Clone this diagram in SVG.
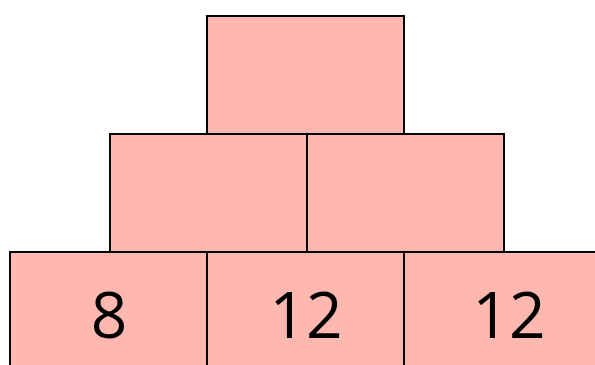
<svg xmlns="http://www.w3.org/2000/svg" width="595" height="365" viewBox="0 0 595 365">
<style>
.b{fill:#FFB8B0;stroke:#000;stroke-width:2}
.t{font-family:"Open Sans",sans-serif;font-size:64px;text-anchor:middle;fill:#000}
</style>
<rect width="595" height="365" fill="#fff"/>
<g id="top"><rect class="b" x="207" y="16" width="197" height="118"/></g>
<g id="mid-left"><rect class="b" x="110" y="134" width="197" height="118"/></g>
<g id="mid-right"><rect class="b" x="307" y="134" width="197" height="118"/></g>
<g id="bot-left"><rect class="b" x="10" y="252" width="197" height="118"/><text class="t" x="109" y="338">8</text></g>
<g id="bot-mid"><rect class="b" x="207" y="252" width="197" height="118"/><text class="t" x="306" y="338">12</text></g>
<g id="bot-right"><rect class="b" x="404" y="252" width="197" height="118"/><text class="t" x="509" y="338">12</text></g>
<g id="connectors"/>
</svg>
